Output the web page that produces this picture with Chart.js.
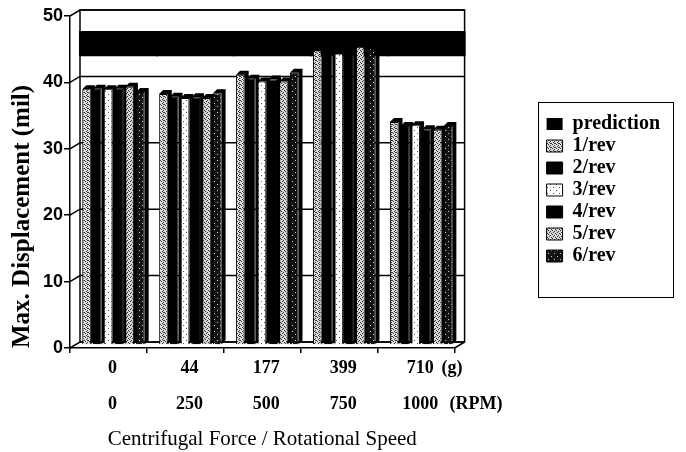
<!DOCTYPE html>
<html>
<head>
<meta charset="utf-8">
<script src="https://cdn.jsdelivr.net/npm/chart.js@4.4.0/dist/chart.umd.min.js"></script>
<style>
  html, body { margin: 0; padding: 0; background: #fff; }
  #wrap { width: 686px; height: 452px; }
</style>
</head>
<body>
<div id="wrap"><canvas id="c" width="686" height="452"></canvas></div>
<script>
// Categories: centrifugal force (g) and rotational speed (RPM)
const forceLabels = ['0', '44', '177', '399', '710'];
const speedLabels = ['0', '250', '500', '750', '1000'];
const unitLabels = ['(g)', '(RPM)'];

// Measured maximum displacement (mil) per harmonic
const rev1 = [38.5, 37.8, 40.7, 44.4, 33.6];
const rev2 = [38.6, 37.4, 40.1, 44.5, 33.0];
const rev3 = [38.5, 37.2, 39.7, 43.9, 33.1];
const rev4 = [38.6, 37.3, 40.0, 44.5, 32.5];
const rev5 = [38.9, 37.2, 39.7, 44.9, 32.4];
const rev6 = [38.1, 37.9, 41.0, 44.7, 33.0];

// Predicted displacement band (mil)
const predictionLow = [43.2, 43.2, 43.2, 43.2, 43.2];
const predictionHigh = [46.7, 46.7, 46.7, 46.7, 46.7];

const yTicks = [0, 10, 20, 30, 40, 50];

const canvas = document.getElementById('c');
const ctx2d = canvas.getContext('2d');

// halftone fills
function makePattern(size, bg, fg, dots) {
  const c = document.createElement('canvas');
  c.width = size; c.height = size;
  const g = c.getContext('2d');
  g.fillStyle = bg; g.fillRect(0, 0, size, size);
  g.fillStyle = fg;
  dots.forEach(([x, y]) => g.fillRect(x, y, 1, 1));
  return ctx2d.createPattern(c, 'repeat');
}
const fillDense = makePattern(4, '#e0e0e0', '#333333', [[0, 0], [2, 1], [1, 2], [3, 3], [2, 3]]);
const fillSparse = makePattern(6, '#ffffff', '#555555', [[1, 1], [4, 4]]);
const fillDense2 = makePattern(4, '#d8d8d8', '#303030', [[1, 0], [3, 1], [0, 2], [2, 3]]);
const fillDarkDots = makePattern(6, '#121212', '#d0d0d0', [[2, 1], [5, 4]]);

// pseudo-3D geometry
const DEPTH = { wallX: 10, wallY: 6, barX: 5, barY: 3, face: 4 };

const depthPlugin = {
  id: 'depth',
  beforeDatasetsDraw(chart) {
    const { ctx, chartArea: a } = chart;
    const y = chart.scales.y;
    const bl = a.left + DEPTH.wallX, br = a.right + DEPTH.wallX;
    const bt = a.top - DEPTH.wallY, bb = a.bottom - DEPTH.wallY;
    ctx.save();
    ctx.strokeStyle = '#000';
    ctx.lineWidth = 1.5;
    ctx.strokeRect(bl, bt, br - bl, bb - bt);
    yTicks.forEach(v => {
      const py = y.getPixelForValue(v);
      ctx.beginPath();
      ctx.moveTo(a.left, py);
      ctx.lineTo(bl, py - DEPTH.wallY);
      ctx.lineTo(br, py - DEPTH.wallY);
      ctx.stroke();
    });
    ctx.beginPath();
    ctx.moveTo(a.right, a.bottom);
    ctx.lineTo(br, bb);
    ctx.stroke();

    // top and side faces of every bar
    ctx.fillStyle = '#000';
    chart.data.datasets.forEach((ds, i) => {
      if (i === 0) return;
      const meta = chart.getDatasetMeta(i);
      meta.data.forEach(bar => {
        const p = bar.getProps(['x', 'y', 'base', 'width'], true);
        const l = p.x - p.width / 2 + DEPTH.barX, r = p.x + p.width / 2 + DEPTH.barX;
        const t = p.y - DEPTH.barY, b = p.base - DEPTH.barY, d = DEPTH.face;
        ctx.beginPath();
        ctx.moveTo(l, t);
        ctx.lineTo(l + d, t - d);
        ctx.lineTo(r + d, t - d);
        ctx.lineTo(r + d, b - d);
        ctx.lineTo(r, b);
        ctx.lineTo(r, t);
        ctx.closePath();
        ctx.fill();
      });
    });
    ctx.restore();
  },
  beforeDatasetDraw(chart, args) {
    const ctx = chart.ctx;
    ctx.save();
    if (args.index === 0) ctx.translate(DEPTH.wallX, -DEPTH.wallY);
    else ctx.translate(DEPTH.barX, -DEPTH.barY);
  },
  afterDatasetDraw(chart) {
    chart.ctx.restore();
  },
  afterDraw(chart) {
    const ctx = chart.ctx;
    ctx.save();
    // legend frame
    const boxes = chart.legend.legendHitBoxes;
    if (boxes && boxes.length) {
      const first = boxes[0], last = boxes[boxes.length - 1];
      const left = Math.round(Math.min(...boxes.map(b => b.left)) - 9);
      const top = Math.round(first.top + first.height / 2 - 22);
      const bottom = Math.round(last.top + last.height / 2 + 41);
      ctx.strokeStyle = '#000';
      ctx.lineWidth = 1;
      ctx.strokeRect(left + 0.5, top + 0.5, 135, bottom - top);
    }
    // unit captions after the last category
    const xs = chart.scales.x;
    const items = xs.getLabelItems();
    const it = items[items.length - 1];
    const o = it.options;
    const lh = it.font.lineHeight;
    const y0 = o.translation[1] + (it.textOffset || 0);
    ctx.font = it.font.string;
    ctx.fillStyle = '#000';
    ctx.textAlign = 'left';
    ctx.textBaseline = o.textBaseline;
    ctx.fillText(unitLabels[0], chart.chartArea.right - 13, y0);
    ctx.fillText(unitLabels[1], chart.chartArea.right - 5, y0 + lh);
    ctx.restore();
  }
};

const serif = '"Liberation Serif", "Times New Roman", serif';

function barSet(label, data, fill) {
  return {
    label, data, backgroundColor: fill, borderColor: '#000', borderWidth: 1,
    barPercentage: 0.8, categoryPercentage: 0.84, order: 0, clip: false
  };
}

new Chart(canvas, {
  type: 'bar',
  data: {
    labels: forceLabels.map((f, i) => [f, speedLabels[i]]),
    datasets: [
      {
        label: 'prediction',
        data: predictionLow.map((lo, i) => [lo, predictionHigh[i]]),
        grouped: false,
        backgroundColor: '#000', borderColor: '#000', borderWidth: 0, inflateAmount: 1,
        barPercentage: 1, categoryPercentage: 1, order: 1, clip: false
      },
      barSet('1/rev', rev1, fillDense),
      barSet('2/rev', rev2, '#000'),
      barSet('3/rev', rev3, fillSparse),
      barSet('4/rev', rev4, '#000'),
      barSet('5/rev', rev5, fillDense2),
      barSet('6/rev', rev6, fillDarkDots)
    ]
  },
  options: {
    responsive: false,
    animation: false,
    layout: { padding: { top: 16, right: 16, left: 0, bottom: 0 } },
    plugins: {
      tooltip: { enabled: false },
      legend: {
        position: 'right',
        fullSize: false,
        title: { display: true, text: ' ', font: { size: 8, lineHeight: 1 }, padding: 4 },
        labels: {
          sort: (a, b) => a.datasetIndex - b.datasetIndex,
          boxWidth: 16, boxHeight: 12, padding: 2,
          color: '#000',
          font: { family: serif, size: 20, weight: 'bold' }
        }
      }
    },
    scales: {
      x: {
        type: 'category',
        offset: true,
        afterFit: s => { s.height = 104; },
        grid: { display: true, offset: true, drawOnChartArea: false, drawTicks: true, tickLength: 5, color: '#000', lineWidth: 1.5 },
        border: { display: true, color: '#000', width: 1.5 },
        ticks: {
          color: '#000', padding: -3, labelOffset: 4, maxRotation: 0, autoSkip: false,
          font: { family: serif, size: 18, weight: 'bold', lineHeight: 2 }
        },
        title: {
          display: true, text: 'Centrifugal Force / Rotational Speed', color: '#000',
          font: { family: serif, size: 21 }, padding: { top: 11, bottom: 0 }
        }
      },
      y: {
        min: 0, max: 50,
        afterBuildTicks: s => { s.ticks = yTicks.map(v => ({ value: v })); },
        afterFit: s => { s.width = 70; },
        grid: { drawOnChartArea: false, drawTicks: true, tickLength: 6, color: '#000', lineWidth: 1.5 },
        border: { display: true, color: '#000', width: 1.5 },
        ticks: {
          color: '#000', padding: 1,
          font: { family: '"Liberation Sans", Arial, sans-serif', size: 18, weight: 'bold' }
        },
        title: {
          display: true, text: 'Max. Displacement (mil)', align: 'start', color: '#000',
          font: { family: serif, size: 25, weight: 'bold' }, padding: { top: 8, bottom: 0 }
        }
      },
      yR: {
        type: 'linear', position: 'right', display: false,
        afterFit: s => { s.width = 90; }
      }
    }
  },
  plugins: [depthPlugin]
});
</script>
</body>
</html>
